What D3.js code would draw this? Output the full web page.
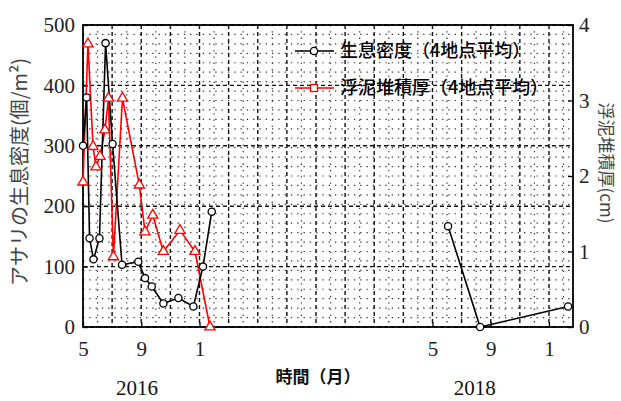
<!DOCTYPE html>
<html><head><meta charset="utf-8">
<script src="https://cdn.jsdelivr.net/npm/d3@7"></script>
<style>body{margin:0;background:#fff}svg{display:block}</style>
</head><body><svg id="c" width="621" height="401"></svg>
<script>
// month index: months since Jan 2016 (0 = Jan 2016)
const densityMonths = [4.0,4.25,4.45,4.72,5.13,5.55,6.03,6.68,7.80,8.26,8.72,9.52,10.55,11.58,12.24,12.84, null, 29.07,31.27,37.31];
const densityValues = [300,380,147,112,147,470,303,103,108,81,67,39,48,34,100,191, null, 167,0,34];
const sedimentMonths = [4.0,4.34,4.69,4.89,5.17,5.51,5.75,6.09,6.71,7.87,8.26,8.79,9.52,10.66,11.69,12.72];
const sedimentValues = [1.92,3.75,2.39,2.12,2.26,2.61,3.03,0.93,3.03,1.88,1.26,1.48,1.00,1.28,1.00,0.00];
const xTickMonths = [4,8,12,28,32,36];
const xTickLabels = ["5","9","1","5","9","1"];
const yearLabels = ["2016","2018"];
const yearMonths = [7.7,30.9];
const leftTicks = [0,100,200,300,400,500];
const rightTicks = [0,1,2,3,4];
const seriesNames = ["生息密度（4地点平均）","浮泥堆積厚（4地点平均）"];

const svg = d3.select("#c");
const L=83,R=573,T=25,B=327;
const x = d3.scaleLinear().domain([4,37.65]).range([L,R]);
const yL = d3.scaleLinear().domain([0,500]).range([B,T]);
const yR = d3.scaleLinear().domain([0,4]).range([B,T]);
const serif = "'Liberation Serif','DejaVu Serif',serif";
const cjk = "'Noto Sans CJK JP','Noto Sans CJK SC',sans-serif";

const g = svg.append("g");
// grid: minor dotted
const minorY = d3.range(0,4.001,0.125);
g.selectAll(".hm").data(minorY).enter().append("line")
  .attr("x1",L).attr("x2",R).attr("y1",d=>yR(d)).attr("y2",d=>yR(d))
  .attr("stroke","#333").attr("stroke-width",1.2).attr("stroke-dasharray","1.3,5");
const minorX = d3.range(5,37.6,2);
g.selectAll(".vm").data(minorX).enter().append("line")
  .attr("y1",T).attr("y2",B).attr("x1",d=>x(d)).attr("x2",d=>x(d))
  .attr("stroke","#333").attr("stroke-width",1.2).attr("stroke-dasharray","1.3,5");
// major dashed
g.selectAll(".hM").data(leftTicks).enter().append("line")
  .attr("x1",L).attr("x2",R).attr("y1",d=>yL(d)).attr("y2",d=>yL(d))
  .attr("stroke","#111").attr("stroke-width",1.4).attr("stroke-dasharray","4,3");
const majorX = d3.range(6,37.6,2);
g.selectAll(".vM").data(majorX).enter().append("line")
  .attr("y1",T).attr("y2",B).attr("x1",d=>x(d)).attr("x2",d=>x(d))
  .attr("stroke","#111").attr("stroke-width",1.4).attr("stroke-dasharray","4,3");

// axes
const axL = d3.axisLeft(yL).tickValues(leftTicks).tickFormat(d3.format("d")).tickSize(-5).tickPadding(8);
const axR = d3.axisRight(yR).tickValues(rightTicks).tickFormat(d3.format("d")).tickSize(-5).tickPadding(6);
const axB = d3.axisBottom(x).tickValues(xTickMonths).tickFormat((d,i)=>xTickLabels[i]).tickSize(-5).tickPadding(14);
function style(sel){
  sel.selectAll(".domain").remove();
  sel.selectAll("line").attr("stroke","#000").attr("stroke-width",1.3);
  sel.selectAll("text").attr("font-family",serif).attr("font-size",21).attr("fill","#222");
}
svg.append("g").attr("transform",`translate(${L},0)`).call(axL).call(style);
svg.append("g").attr("transform",`translate(${R},0)`).call(axR).call(style);
svg.append("g").attr("transform",`translate(0,${B})`).call(axB).call(style);
svg.append("rect").attr("x",L).attr("y",T).attr("width",R-L).attr("height",B-T)
  .attr("fill","none").attr("stroke","#000").attr("stroke-width",1.8);

// series
const dens = densityMonths.map((m,i)=>({m, v:densityValues[i]}));
const sed = sedimentMonths.map((m,i)=>({m, v:sedimentValues[i]}));
const lineD = d3.line().defined(d=>d.m!==null&&d.v!==null).x(d=>x(d.m)).y(d=>yL(d.v));
const lineS = d3.line().x(d=>x(d.m)).y(d=>yR(d.v));
svg.append("path").datum(sed).attr("d",lineS).attr("fill","none").attr("stroke","#ff0000").attr("stroke-width",1.6);
svg.append("path").datum(dens).attr("d",lineD).attr("fill","none").attr("stroke","#000").attr("stroke-width",1.6);
const tri = d3.symbol().type(d3.symbolTriangle).size(45);
svg.selectAll(".st").data(sed).enter().append("path")
  .attr("d",tri).attr("transform",d=>`translate(${x(d.m)},${yR(d.v)})`)
  .attr("fill","#fff").attr("stroke","#ff0000").attr("stroke-width",1.3);
svg.selectAll(".dc").data(dens.filter(d=>d.m!==null)).enter().append("circle")
  .attr("cx",d=>x(d.m)).attr("cy",d=>yL(d.v)).attr("r",3.6)
  .attr("fill","#fff").attr("stroke","#000").attr("stroke-width",1.3);

// legend
const lg = svg.append("g");
const rows=[{y:51,c:"#000",sym:"circle"},{y:88,c:"#ff0000",sym:"square"}];
rows.forEach((r,i)=>{
  lg.append("line").attr("x1",295).attr("x2",334).attr("y1",r.y).attr("y2",r.y).attr("stroke",r.c).attr("stroke-width",1.6);
  if(r.sym==="circle") lg.append("circle").attr("cx",314).attr("cy",r.y).attr("r",3.6).attr("fill","#fff").attr("stroke",r.c).attr("stroke-width",1.3);
  else lg.append("rect").attr("x",310.5).attr("y",r.y-3.5).attr("width",7).attr("height",7).attr("fill","#fff").attr("stroke",r.c).attr("stroke-width",1.3);
  lg.append("text").attr("x",340).attr("y",r.y).attr("dy","0.36em").attr("font-family",cjk).attr("font-size",18)
    .attr("font-weight",500).attr("fill","#000").text(seriesNames[i]);
});

// titles
svg.append("text").attr("transform","translate(18,172) rotate(-90)").attr("text-anchor","middle")
  .attr("dominant-baseline","central")
  .attr("font-family",cjk).attr("font-size",20).attr("fill","#444")
  .text("アサリの生息密度(個/m²)");
svg.append("text").attr("transform","translate(607,163) rotate(90)").attr("text-anchor","middle")
  .attr("dominant-baseline","central")
  .attr("font-family",cjk).attr("font-size",17).attr("fill","#444")
  .text("浮泥堆積厚(cm)");
svg.append("text").attr("x",318).attr("y",377).attr("dy","0.35em").attr("text-anchor","middle")
  .attr("font-family",cjk).attr("font-size",17).attr("font-weight","bold").attr("fill","#111").text("時間（月）");
svg.selectAll(".yr").data(yearLabels).enter().append("text")
  .attr("x",(d,i)=>x(yearMonths[i])).attr("y",388).attr("dy","0.35em").attr("text-anchor","middle")
  .attr("font-family",serif).attr("font-size",21).attr("fill","#111").text(d=>d);
</script></body></html>
